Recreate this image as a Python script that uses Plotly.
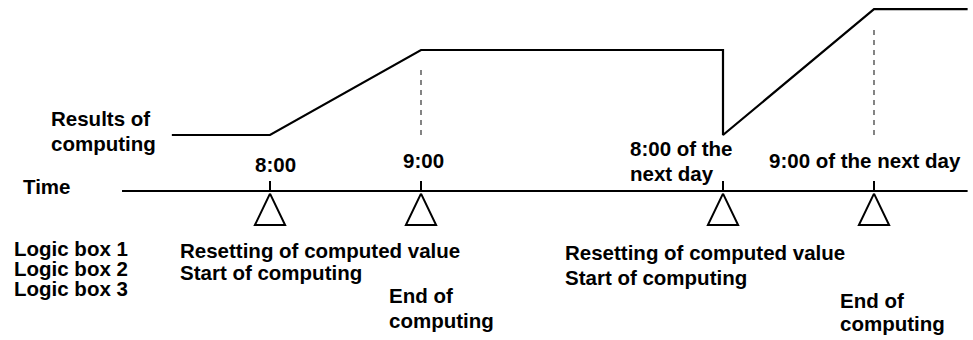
import plotly.graph_objects as go

# --- data -------------------------------------------------------------
# schematic time positions of the four events (8:00, 9:00, next day 8:00, next day 9:00)
event_pos = [0, 1, 3, 4]
event_labels = ["8:00", "9:00", "8:00 of the", "9:00 of the next day"]
event_label2 = ["", "", "next day", ""]

# results of computing (level of the computed value)
result_x = [-0.65, 0, 1, 3, 3, 4, 4.62]
result_y = [0, 0, 1, 1, 0, 1.48, 1.48]

# events where computing ends -> dashed guide lines
end_events = [1, 4]
end_levels = [1, 1.48]

logic_boxes = ["Logic box 1", "Logic box 2", "Logic box 3"]
reset_text = ["Resetting of computed value", "Start of computing"]
end_text = ["End of", "computing"]

W, H = 973, 340
FONT = dict(family="Liberation Sans, Arial, sans-serif", size=20.5, color="black", weight="bold")

AXIS_Y = -0.66      # level of the time axis
TICK_H = 0.12
TRI_W = 0.1
TRI_H = 0.37

fig = go.Figure()

# time axis
fig.add_trace(go.Scatter(
    x=[-0.98, 4.62], y=[AXIS_Y, AXIS_Y], mode="lines",
    line=dict(color="black", width=2), hoverinfo="skip"))

# ticks on the time axis
tx, ty = [], []
for e in event_pos:
    tx += [e, e, None]
    ty += [AXIS_Y, AXIS_Y + TICK_H, None]
fig.add_trace(go.Scatter(x=tx, y=ty, mode="lines",
                         line=dict(color="black", width=2), hoverinfo="skip"))

# triangles under the axis
trx, try_ = [], []
for e in event_pos:
    top = AXIS_Y - 0.03
    trx += [e, e - TRI_W, e + TRI_W, e, None]
    try_ += [top, top - TRI_H, top - TRI_H, top, None]
fig.add_trace(go.Scatter(x=trx, y=try_, mode="lines",
                         line=dict(color="black", width=2), hoverinfo="skip"))

# dashed guide lines at end of computing
dx, dy = [], []
for e, lv in zip(end_events, end_levels):
    dx += [e, e, None]
    dy += [0, lv - 0.2, None]
fig.add_trace(go.Scatter(x=dx, y=dy, mode="lines",
                         line=dict(color="#333333", width=1.2, dash="5px,5px"),
                         hoverinfo="skip"))

# results of computing
fig.add_trace(go.Scatter(x=result_x, y=result_y, mode="lines",
                         line=dict(color="black", width=2.2), hoverinfo="skip"))


def label(text, px, py, anchor="left"):
    fig.add_annotation(text=text, xref="paper", yref="paper",
                       x=px / W, y=1 - py / H, xanchor=anchor, yanchor="middle",
                       showarrow=False, font=FONT, align="left")


label("Results of", 49, 118)
label("computing", 49, 143)
label("Time", 21, 186)
for i, t in enumerate(logic_boxes):
    label(t, 12, 248 + 20 * i)

# event labels above the axis
label(event_labels[0], 275, 164, "center")
label(event_labels[1], 423, 160, "center")
label(event_labels[2], 628, 148)
label(event_label2[2], 628, 173)
label(event_labels[3], 865, 160, "center")

# descriptions below the axis
label(reset_text[0], 178, 250)
label(reset_text[1], 178, 272)
label(end_text[0], 387, 295)
label(end_text[1], 387, 320)
label(reset_text[0], 563, 252)
label(reset_text[1], 563, 277)
label(end_text[0], 838, 300)
label(end_text[1], 838, 323)

fig.update_layout(
    width=W, height=H,
    margin=dict(l=0, r=0, t=0, b=0),
    plot_bgcolor="white", paper_bgcolor="white",
    showlegend=False,
    xaxis=dict(range=[-270 / 151, (W - 270) / 151], visible=False, fixedrange=True),
    yaxis=dict(range=[(135 - H) / 85, 135 / 85], visible=False, fixedrange=True),
)

fig.write_html("out.html", config=dict(displayModeBar=False),
               post_script="document.body.style.margin='0';document.body.style.overflow='hidden';")
